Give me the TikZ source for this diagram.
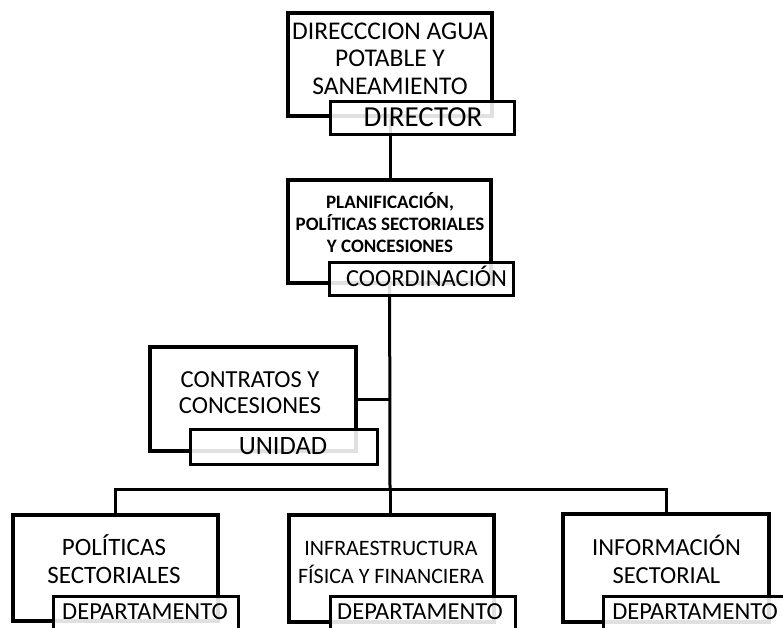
\documentclass[tikz,border=0pt]{standalone}
\usepackage{fontspec}
\setmainfont{Carlito}
\pgfdeclarelayer{wires}
\pgfsetlayers{wires,main}
\newcommand\fsz[2]{\fontsize{#1}{#2}\selectfont}
\begin{document}
\begin{tikzpicture}[x=1pt,y=-1pt,
  unit/.style={draw, line width=4.5pt, fill=white, inner sep=0pt, rectangle},
  tag/.style={draw, line width=3pt, fill=white, fill opacity=0.88, inner sep=0pt,
    rectangle, minimum width=184pt, minimum height=33pt},
  link/.style={line width=3pt},
  txt/.style={align=center, inner sep=0pt, text=black},
]
\clip (0,0) rectangle (783,627);
\useasboundingbox (0,0) rectangle (783,627);

% outer boxes
\node[unit, minimum width=204pt, minimum height=103pt] (top)   at (390,64.5) {};
\node[unit, minimum width=203pt, minimum height=103pt] (plan)  at (389.5,231.5) {};
\node[unit, minimum width=206pt, minimum height=104pt] (contr) at (253,399) {};
\node[unit, minimum width=205pt, minimum height=106pt] (pol)   at (115.5,568) {};
\node[unit, minimum width=205pt, minimum height=107pt] (infra) at (391.5,568.5) {};
\node[unit, minimum width=206pt, minimum height=108pt] (info)  at (666,568) {};

% title boxes
\node[tag] (topT)   at (422,117.5) {};
\node[tag] (planT)  at (421,278.5) {};
\node[tag, minimum width=187pt, minimum height=35pt] (contrT) at (283.5,446.5) {};
\node[tag, minimum width=185pt, minimum height=38pt] (polT)   at (145.5,615) {};
\node[tag, minimum width=185pt, minimum height=38pt] (infraT) at (422.5,615) {};
\node[tag, minimum width=185pt, minimum height=38pt] (infoT)  at (695.5,615) {};

% texts
\node[txt, font=\fsz{25.5}{27.5}] (topL) at (390,58.5)
  {DIRECCCION AGUA\\POTABLE Y\\SANEAMIENTO};
\node[txt, font=\fsz{29}{30}] (topN) at (423,117.5) {DIRECTOR};
\node[txt, font=\bfseries\fsz{19}{22}] (planL) at (390,223)
  {PLANIFICACIÓN,\\POLÍTICAS SECTORIALES\\Y CONCESIONES};
\node[txt, font=\fsz{24.5}{26}] (planN) at (426.5,276) {COORDINACIÓN};
\node[txt, font=\fsz{24.5}{26}] (contrL) at (250,392.5)
  {CONTRATOS Y\\CONCESIONES};
\node[txt, font=\fsz{26.5}{28}] (contrN) at (283,446.5) {UNIDAD};
\node[txt, font=\fsz{25}{28}] (polL) at (114,559.5)
  {POLÍTICAS\\SECTORIALES};
\node[txt, font=\fsz{22}{28}] (infraL) at (391,562)
  {INFRAESTRUCTURA\\FÍSICA Y FINANCIERA};
\node[txt, font=\fsz{24.5}{28}] (infoL) at (666.5,559)
  {INFORMACIÓN\\SECTORIAL};
\node[txt, font=\fsz{24.5}{26}] (polN)   at (145,612) {DEPARTAMENTO};
\node[txt, font=\fsz{24.5}{26}] (infraN) at (420,612) {DEPARTAMENTO};
\node[txt, font=\fsz{24.5}{26}] (infoN)  at (695,612) {DEPARTAMENTO};

% connectors
\coordinate (bus) at (390,489);
\begin{pgfonlayer}{wires}
  \draw[link] (top.center) -- (top.center |- plan.north);
  \draw[link] (plan.center) -- (bus);
  \draw[link] (contr.east) -- (contr.east -| bus);
  \draw[link] (bus) -| (pol.north);
  \draw[link] (bus) -- (bus |- infra.north);
  \draw[link] (bus) -| (info.north);
\end{pgfonlayer}
\end{tikzpicture}
\end{document}
